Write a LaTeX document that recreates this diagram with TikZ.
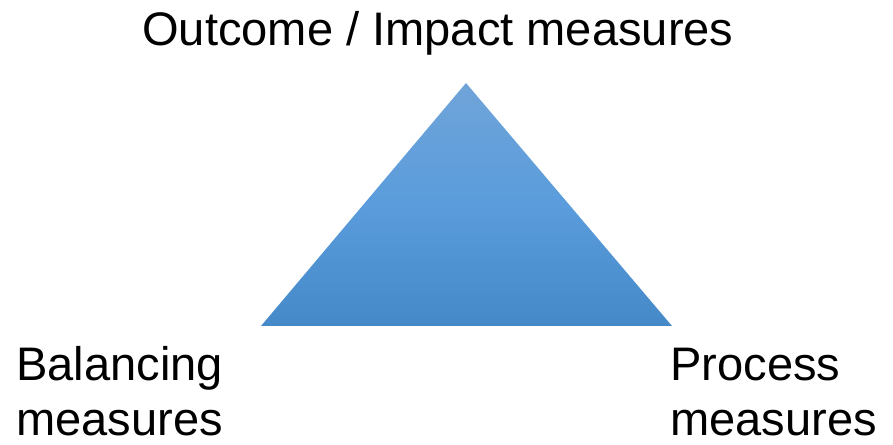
\documentclass[tikz,border=0pt]{standalone}
\usepackage{fontspec}
\setmainfont{Liberation Sans}
\definecolor{triTop}{HTML}{70A4D9}
\definecolor{triMid}{HTML}{5A9CDC}
\definecolor{triBot}{HTML}{4589C8}
\tikzset{
  lbl/.style={inner sep=0pt, font=\fontsize{35.3pt}{41.25pt}\selectfont, align=left},
}
\begin{document}
\begin{tikzpicture}[x=0.75pt,y=-0.75pt]
\useasboundingbox (0,0) rectangle (893,445);
\coordinate (apex) at (466,83);
\coordinate (bl) at (261,326);
\coordinate (br) at (672,326);
\shade[top color=triTop, bottom color=triBot, middle color=triMid] (apex) -- (br) -- (bl) -- cycle;
\node[lbl, anchor=base west] (title) at (142,45.5) {Outcome / Impact measures};
\node[lbl, anchor=base west] (bal) at (16,435.5) {Balancing\\measures};
\node[lbl, anchor=base west] (proc) at (670,435.5) {Process\\measures};
\end{tikzpicture}
\end{document}
